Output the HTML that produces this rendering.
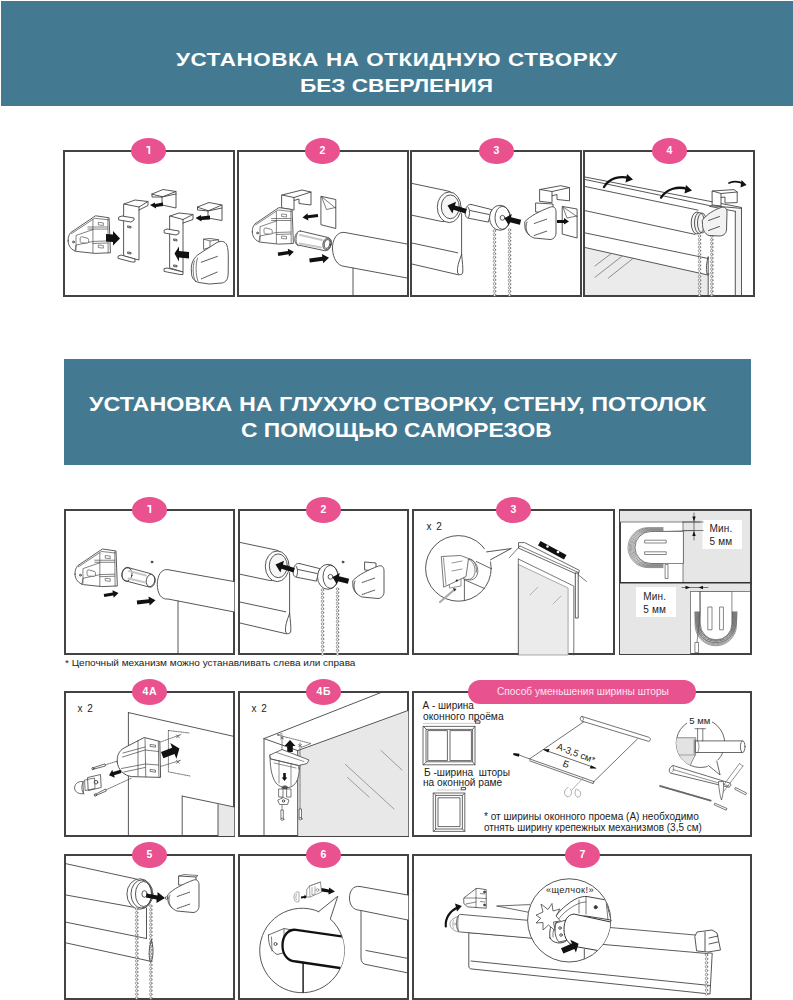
<!DOCTYPE html>
<html><head><meta charset="utf-8">
<style>
html,body{margin:0;padding:0;background:#fff;width:793px;height:1000px;overflow:hidden;position:relative;font-family:"Liberation Sans",sans-serif;}
.ban{position:absolute;background:#447a91;}
.tt{position:absolute;color:#fff;font-weight:bold;white-space:nowrap;line-height:1;transform-origin:0 0;}
.box{position:absolute;z-index:0;box-sizing:border-box;border:2px solid #434343;background:#fff;overflow:hidden;}
.bd{position:absolute;z-index:3;width:35px;height:26px;border-radius:50%;background:#e9518f;color:#fff;font-weight:bold;font-size:10.5px;letter-spacing:0.6px;text-indent:0.6px;text-align:center;line-height:25px;}
.txt{position:absolute;white-space:nowrap;line-height:1;color:#222;transform-origin:0 0;}
svg{position:absolute;left:0;top:0;}
</style></head><body>
<div class="ban" style="left:1px;top:1px;width:792px;height:105px"></div>
<div class="tt" id="t1a" style="left:176px;top:50.2px;font-size:19px;letter-spacing:0.5px;transform:scaleX(1.18)">УСТАНОВКА НА ОТКИДНУЮ СТВОРКУ</div>
<div class="tt" id="t1b" style="left:300px;top:76px;font-size:19px;transform:scaleX(1.19)">БЕЗ СВЕРЛЕНИЯ</div>

<div class="box" style="left:63px;top:150px;width:172px;height:147px"></div>
<div class="box" style="left:237px;top:150px;width:172px;height:147px"></div>
<div class="box" style="left:410px;top:150px;width:172px;height:147px"></div>
<div class="box" style="left:583px;top:150px;width:172px;height:147px"></div>

<svg width="793" height="1000" viewBox="0 0 793 1000" style="position:absolute;left:0;top:0;z-index:1" fill="none" stroke="#444" stroke-width="0.9" stroke-linejoin="round" stroke-linecap="round">
<defs><g id="housing">
<path fill="#fff" stroke-width="0.85" d="M252.3,232 C252.2,228.5 253,226 255,223.8 L278.9,207.6 L292.1,209.5 L293.4,243.5 L278.3,244.1 L260.6,242.2 C255.5,241 252.4,237 252.3,232 Z"/>
<path stroke-width="0.65" d="M255.5,225 L278,210 L291.5,211.5 M276.4,211.5 L276.4,243.5 M290.9,210.5 L291.2,243.5 M271.5,218.5 L290.9,218.5 M271.5,220.5 L290.9,220.5 M260.5,226.5 L276.4,221 M259,242 L260,236 L276.4,232.5 L290.9,232 M276.4,234.5 L290.9,234 M260,227 L260,241"/>
<path fill="#fff" stroke-width="0.65" d="M264,229 C264,228 265,228 266,228 L271.5,229.5 C272.5,230 272.5,233.5 271.5,234 L266,234 C264.5,234 264,233 264,232 Z"/>
<path stroke-width="0.6" d="M282,214 l4.5,0.5 l0,2.5 l-4.5,-0.5 z M282,236 l4.5,0.5 l0,2.5 l-4.5,-0.5 z"/>
<circle cx="257.5" cy="233" r="0.9"/>
</g></defs>

<!-- R1 B1 -->
<g id="r1b1">
<use href="#housing" transform="translate(-191.76,1.97) scale(1.03)"/>
<path fill="#111" stroke="none" d="M106,234 L113,234.5 L113,231 L120,238.5 L113,245.5 L113,242 L106,241.5 Z"/>
<!-- clip 1 -->
<path fill="#fff" d="M124,204 L135,200 L148,201.5 L148,205.5 L139,210 L139,260 L124,256 Z"/>
<path d="M124,204 L139,207 L148,201.5 M139,207 L139,210"/>
<path fill="#fff" d="M119,217 L122,216 L134,218 L134,220 L131,222 L119,220 Z"/>
<path fill="#fff" d="M118.5,256 L121,255 L135,259 L135,262 L132,262 L118.5,258.5 Z"/>
<path d="M128,226 l3,0.5 l0,1.5 l-3,-0.5z M128,252 l3,0.5 l0,1.5 l-3,-0.5z"/>
<!-- small clip 1 -->
<path fill="#fff" d="M152,194 L163,189.5 L176,191.5 L176,208 L162,205 L162,197 Z"/>
<path d="M152,194 L152,197 L162,197 L176,194 M162,197 L176,191.5"/>
<path fill="#111" stroke="none" d="M150,205 L155,202.5 L155,204 L163,202.5 L163,206 L156,207 L156,208.5 Z"/>
<!-- clip 2 -->
<path fill="#fff" d="M170,216 L179,213 L193,214.5 L193,219.5 L183,223 L183,272 L170,268 Z"/>
<path d="M170,216 L183,219.5 L193,214.5 M183,219.5 L183,223"/>
<path fill="#fff" d="M164.5,230 L167,229 L179,231 L179,233.5 L176,235 L164.5,233 Z"/>
<path fill="#fff" d="M164.5,268.5 L167,268 L183,272 L183,274.5 L180,274.5 L164.5,271.5 Z"/>
<path d="M174,239 l3,0.5 l0,1.5 l-3,-0.5z M174,265 l3,0.5 l0,1.5 l-3,-0.5z"/>
<!-- small clip 2 -->
<path fill="#fff" d="M197.5,207 L209,202.5 L222,205 L222,220.5 L208,218 L208,211 Z"/>
<path d="M197.5,207 L197.5,210 L208,211 L222,208 M208,211 L222,205"/>
<path fill="#111" stroke="none" d="M195.5,218 L201,215 L201,216.5 L210,215.5 L210,219.5 L201.5,220 L201.5,221.5 Z"/>
<!-- arrow into clip2 -->
<path fill="#111" stroke="none" d="M174.5,253.5 L179,246.5 L179,251 L189,252 L189,258.5 L179,257.5 L179,261.5 Z"/>
<!-- cover -->
<path fill="#fff" stroke-width="0.8" d="M203.6,249 L203.6,239.2 L210,238.5 L218.6,239.8 L218.6,244 Z"/>
<path stroke-width="0.7" d="M203.6,239.2 L210,241 L218.6,239.8 M210,241 L210,247"/>
<path fill="#fff" stroke-width="0.9" d="M191.3,268 C191.5,262 194,257.5 199,254 L217,242.5 C221,240.5 225,241 226.8,245 C228,248 228.3,252 228.3,258 L228.2,273 C228,279 226.5,282 222,283 L209.4,284 L199,282.5 C194.5,281.5 191.8,278 191.5,274 Z"/>
<path stroke-width="0.7" d="M194.5,261 C192.5,266 192.5,276 195.5,281.5 M197.5,258 C195.5,264 195.5,275 198,281"/>
<path stroke-dasharray="1.1 0.7" stroke-width="0.9" d="M201.3,262.2 L217.4,256.4 M201.3,278.9 L217.4,272"/>
</g>

<!-- R1 B2 -->
<g id="r1b2">
<path fill="#fff" d="M282,195 L302,190 L311,192 L311,205 L299,203.5 L299,199 L294,200.5 L294,210 L282,208 Z"/>
<path d="M282,195 L294,197.5 L311,192 M294,197.5 L294,200.5"/>
<use href="#housing"/>
<path fill="#fff" d="M321.3,196.4 L335.8,199.5 L335.8,228.5 L321.3,224.8 Z"/>
<path stroke-width="0.7" d="M321.5,196.6 L335.5,208 M321.5,196.6 L326.5,209.5 L335.5,207.5"/>
<path fill="#111" stroke="none" d="M302.5,217.5 L308.4,220.4 L308.1,218.3 L318.2,217.0 L317.8,214.0 L307.8,215.3 L307.5,213.2 Z"/>
<path fill="#fff" d="M300.5,231 L327.6,237.4 C331,238.5 332,241 331,245 C330,249 327.5,251 324.4,250.6 L298,245 C295,244 294.5,241 295,237 C296,233 298,231 300.5,231 Z"/>
<ellipse cx="327" cy="244" rx="4" ry="6" transform="rotate(12 327 244)"/>
<ellipse cx="327" cy="244" rx="2.8" ry="4.6" transform="rotate(12 327 244)"/>
<path stroke="#c8c8c8" stroke-width="2" d="M300,235 L322,240 M299.5,243.5 L321,247.5"/><path stroke-width="0.7" d="M297.5,233.5 C295.5,236 295.5,243 298,246"/>
<path fill="#111" stroke="none" d="M293.8,251.8 L287.8,248.7 L288.1,250.9 L277.7,252.5 L278.3,255.9 L288.6,254.3 L289.0,256.6 Z"/>
<path fill="#111" stroke="none" d="M329.0,257.8 L321.9,254.1 L322.3,256.7 L309.2,258.5 L309.8,262.5 L322.8,260.7 L323.2,263.2 Z"/>
<!-- roller -->
<path fill="#fff" d="M407,244 L345,232.5 C337,231 332,240 332.5,249 C333,258 337,266 345,266.5 L407,278"/>
<path d="M353,268 L353,295"/>
</g>

<!-- R1 B3 -->
<g id="r1b3">
<path fill="#fff" d="M412.3,183.5 L447.5,190.9 C455,192.5 459,200 458.5,208 C458,216 452,222 441.8,221.5 L412.3,215.3"/>
<ellipse cx="449.2" cy="207.3" rx="11.9" ry="15.3" fill="#fff"/>
<ellipse cx="450.3" cy="206.8" rx="9" ry="11.9" fill="#f6f6f6"/>
<path d="M412.3,243.1 L457.7,252.8 M412.3,264.1 L458.8,274.9 M461.6,213.6 L461.6,254.5"/>
<path fill="#fff" d="M461.6,254.5 C458.5,262 457,268 457.5,272 C458,275.5 462.5,275.5 462.8,272 C463,268 462.5,262 461.6,254.5 Z"/>
<path fill="#fff" d="M471.3,204.5 L491.7,209.6 L488.3,222.1 L467.9,218.1 C465.5,217.5 464.5,214 465.5,210 C466.5,206 468.5,204 471.3,204.5 Z"/>
<path d="M468,207 C470,209 470,215 468.5,217.5 M470,210.5 L489,214.5"/>
<ellipse cx="500" cy="217.8" rx="10.5" ry="12.5" fill="#fff"/>
<ellipse cx="502.5" cy="217.8" rx="7.5" ry="11.5"/>
<circle cx="502.5" cy="217.8" r="2.4"/>
<g fill="#fff" stroke="#666" stroke-width="0.65"><circle cx="494.40" cy="231.00" r="1.25"/><circle cx="494.41" cy="234.76" r="1.25"/><circle cx="494.42" cy="238.53" r="1.25"/><circle cx="494.44" cy="242.29" r="1.25"/><circle cx="494.45" cy="246.06" r="1.25"/><circle cx="494.46" cy="249.82" r="1.25"/><circle cx="494.47" cy="253.59" r="1.25"/><circle cx="494.48" cy="257.35" r="1.25"/><circle cx="494.49" cy="261.12" r="1.25"/><circle cx="494.51" cy="264.88" r="1.25"/><circle cx="494.52" cy="268.65" r="1.25"/><circle cx="494.53" cy="272.41" r="1.25"/><circle cx="494.54" cy="276.18" r="1.25"/><circle cx="494.55" cy="279.94" r="1.25"/><circle cx="494.56" cy="283.71" r="1.25"/><circle cx="494.58" cy="287.47" r="1.25"/><circle cx="494.59" cy="291.24" r="1.25"/><circle cx="494.60" cy="295.00" r="1.25"/></g><g fill="#fff" stroke="#666" stroke-width="0.65"><circle cx="509.50" cy="230.00" r="1.25"/><circle cx="509.50" cy="233.61" r="1.25"/><circle cx="509.50" cy="237.22" r="1.25"/><circle cx="509.50" cy="240.83" r="1.25"/><circle cx="509.50" cy="244.44" r="1.25"/><circle cx="509.50" cy="248.06" r="1.25"/><circle cx="509.50" cy="251.67" r="1.25"/><circle cx="509.50" cy="255.28" r="1.25"/><circle cx="509.50" cy="258.89" r="1.25"/><circle cx="509.50" cy="262.50" r="1.25"/><circle cx="509.50" cy="266.11" r="1.25"/><circle cx="509.50" cy="269.72" r="1.25"/><circle cx="509.50" cy="273.33" r="1.25"/><circle cx="509.50" cy="276.94" r="1.25"/><circle cx="509.50" cy="280.56" r="1.25"/><circle cx="509.50" cy="284.17" r="1.25"/><circle cx="509.50" cy="287.78" r="1.25"/><circle cx="509.50" cy="291.39" r="1.25"/><circle cx="509.50" cy="295.00" r="1.25"/></g>
<path fill="#111" stroke="none" d="M447.5,205.6 L452.4,213.6 L453.5,209.8 L465.5,213.5 L466.9,209.1 L454.9,205.4 L456.0,201.7 Z"/>
<path fill="#111" stroke="none" d="M504.5,218.3 L508.9,225.6 L509.7,222.3 L519.9,224.8 L521.1,219.8 L511.0,217.2 L511.8,213.9 Z"/>
<path fill="#fff" d="M540,189.5 L560.7,185.7 L569.5,187.6 L569.5,200.8 L557,199.5 L557,194.5 L552,195.8 L552,202.7 L540,201.4 Z"/>
<path d="M540,189.5 L552,191.5 L569.5,187.6 M552,191.5 L552,195.8"/>
<path fill="#fff" d="M562.6,206.5 L577.1,209 L577.1,238 L562.6,234.2 Z"/>
<path stroke-width="0.7" d="M562.8,206.8 L577,216.5 M562.8,206.8 L567,218 L577,216"/>
<path fill="#fff" d="M536,203 L553,204 L553,213 L536,212 Z"/>
<path fill="#fff" d="M525,221.5 C530,216 540,211 550.6,207 C554,206 556,208 556,212 L556,233 C556,237 553,239.5 550,239.5 L534,238 C529,236 525.5,232 525,228 Z"/>
<path d="M527,222 C525,226 526,232 529,235"/>
<path stroke-dasharray="1.2 0.8" d="M534.2,223.5 L546.8,219.1 M534.2,235.5 L546.8,231.1"/>
<path fill="#111" stroke="none" d="M557,220 L564,220 L564,218 L569,221.5 L564,224.5 L564,223 L557,223 Z"/>
</g>
<!-- R1 B4 -->
<g id="r1b4">
<path fill="#ebebeb" stroke="none" d="M585,247.5 L708.2,275.1 L708.2,295 L585,295 Z"/>
<path fill="#f1f1f1" stroke="none" d="M735.3,211.3 L741.5,208.4 L741.5,295 L735.3,295 Z"/>
<path d="M585,177 L741.5,207.5 M585,179.5 L709.6,205.6 L741.5,208.4 M741.5,208.4 L741.5,295 M735.3,211.3 L735.3,295 M709.6,206.3 L735.3,211.3"/>
<path d="M585,186.5 L698,210.1 M585,210.6 L695,234.4 M585,232.9 L708.2,258.5 M585,247.5 L708.2,275.1 M708.2,257 L708.2,295"/>
<path stroke="#666" stroke-width="0.7" d="M595,265.9 L611,253.8 M595,277.3 L621.7,256.4 M608.4,278 L633.2,258.3"/>
<path d="M708.2,257 C706.5,262 706,268 707,274 L709,274"/>
<g fill="#fff" stroke="#666" stroke-width="0.65"><circle cx="699.50" cy="236.00" r="1.25"/><circle cx="699.50" cy="239.69" r="1.25"/><circle cx="699.50" cy="243.38" r="1.25"/><circle cx="699.50" cy="247.06" r="1.25"/><circle cx="699.50" cy="250.75" r="1.25"/><circle cx="699.50" cy="254.44" r="1.25"/><circle cx="699.50" cy="258.12" r="1.25"/><circle cx="699.50" cy="261.81" r="1.25"/><circle cx="699.50" cy="265.50" r="1.25"/><circle cx="699.50" cy="269.19" r="1.25"/><circle cx="699.50" cy="272.88" r="1.25"/><circle cx="699.50" cy="276.56" r="1.25"/><circle cx="699.50" cy="280.25" r="1.25"/><circle cx="699.50" cy="283.94" r="1.25"/><circle cx="699.50" cy="287.62" r="1.25"/><circle cx="699.50" cy="291.31" r="1.25"/><circle cx="699.50" cy="295.00" r="1.25"/></g><g fill="#fff" stroke="#666" stroke-width="0.65"><circle cx="711.80" cy="236.00" r="1.25"/><circle cx="711.80" cy="239.69" r="1.25"/><circle cx="711.80" cy="243.38" r="1.25"/><circle cx="711.80" cy="247.06" r="1.25"/><circle cx="711.80" cy="250.75" r="1.25"/><circle cx="711.80" cy="254.44" r="1.25"/><circle cx="711.80" cy="258.12" r="1.25"/><circle cx="711.80" cy="261.81" r="1.25"/><circle cx="711.80" cy="265.50" r="1.25"/><circle cx="711.80" cy="269.19" r="1.25"/><circle cx="711.80" cy="272.88" r="1.25"/><circle cx="711.80" cy="276.56" r="1.25"/><circle cx="711.80" cy="280.25" r="1.25"/><circle cx="711.80" cy="283.94" r="1.25"/><circle cx="711.80" cy="287.62" r="1.25"/><circle cx="711.80" cy="291.31" r="1.25"/><circle cx="711.80" cy="295.00" r="1.25"/></g>
<path fill="#fff" d="M712.5,191 L734,189.6 L737.2,192 L737.2,202.6 L725,203 L725,197 L721,197.5 L721,206 L712.5,205 Z"/>
<path d="M712.5,191 L721,193.5 L737.2,192 M721,193.5 L721,197.5"/>
<ellipse cx="697" cy="223" rx="5.8" ry="11" fill="#f4f4f4"/>
<ellipse cx="699.5" cy="223" rx="5" ry="10.5" fill="#f4f4f4"/>
<ellipse cx="702" cy="223" rx="4.5" ry="10"/>
<path fill="#f2f2f2" d="M702.5,220 C707,214 714,210 721,207.5 C725,206.5 727,208.5 727,212 L726.5,230 C726,234 723,236 719,236 L709,235.5 C704.5,234 702.5,229 702.5,225 Z"/>
<path stroke-dasharray="1.2 0.7" d="M708.5,220.5 L719.5,216.5 M708.5,230.5 L719.5,226.5"/>
<path fill="none" stroke="#111" stroke-width="2.3" d="M604,187 C609.5,178 620,175.5 629,178"/>
<path fill="#111" stroke="none" d="M627,174 L633,179.5 L625.5,182.5 Z"/>
<path fill="none" stroke="#111" stroke-width="2.3" d="M661,197.6 C667,188.5 678,186 687.5,189"/>
<path fill="#111" stroke="none" d="M686,185 L692,190.5 L684.5,193.5 Z"/>
<path fill="none" stroke="#111" stroke-width="1.8" d="M729,183 C734,181 739,181.5 743,183.5"/>
<path fill="#111" stroke="none" d="M741.5,180 L746.6,185 L740.5,187.5 Z"/>
</g>
<!-- S2 R1 B1 -->
<g id="s2r1b1">
<use href="#housing" transform="translate(-184.86,335.17) scale(1.03)"/>
<path fill="#fff" d="M128,567.5 L150,573.5 C154,575 156,578 155,582 C154,586 152,587.5 149,587 L126,581 C123,580 121.5,577 122,573 C123,569 125,567 128,567.5 Z"/>
<ellipse cx="127" cy="574.5" rx="5" ry="6.8" transform="rotate(12 127 574.5)"/>
<ellipse cx="150.5" cy="580.5" rx="4.2" ry="6.2" transform="rotate(12 150.5 580.5)"/>
<path stroke="#c8c8c8" stroke-width="2" d="M129,571 L146,575.5 M128.5,578.5 L145.5,582.5"/>
<circle cx="152" cy="562" r="0.9" fill="#333"/>
<path fill="#111" stroke="none" d="M118.5,593.0 L112.4,590.2 L112.8,592.4 L103.7,593.9 L104.3,597.1 L113.4,595.5 L113.7,597.7 Z"/>
<path fill="#111" stroke="none" d="M155.5,600.3 L148.5,596.6 L148.8,599.2 L136.8,600.6 L137.2,604.4 L149.3,603.0 L149.6,605.5 Z"/>
<path fill="#fff" d="M234.3,581.6 L168,569.7 C161,568.5 157.3,576 157.3,584.5 C157.3,593 161,600 168,599 L234.3,612"/>
<path d="M178,601 L178,654"/>
</g>
<!-- S2 R1 B2 (shifted copy of R1B3 roller parts) -->
<g id="s2r1b2" transform="translate(-172,359)">
<path fill="#fff" d="M412.3,183.5 L447.5,190.9 C455,192.5 459,200 458.5,208 C458,216 452,222 441.8,221.5 L412.3,215.3"/>
<ellipse cx="449.2" cy="207.3" rx="11.9" ry="15.3" fill="#fff"/>
<ellipse cx="450.3" cy="206.8" rx="9" ry="11.9" fill="#f6f6f6"/>
<path d="M412.3,243.1 L457.7,252.8 M412.3,264.1 L458.8,274.9 M461.6,213.6 L461.6,254.5"/>
<path fill="#fff" d="M461.6,254.5 C458.5,262 457,268 457.5,272 C458,275.5 462.5,275.5 462.8,272 C463,268 462.5,262 461.6,254.5 Z"/>
<path fill="#fff" d="M471.3,204.5 L491.7,209.6 L488.3,222.1 L467.9,218.1 C465.5,217.5 464.5,214 465.5,210 C466.5,206 468.5,204 471.3,204.5 Z"/>
<path d="M468,207 C470,209 470,215 468.5,217.5 M470,210.5 L489,214.5"/>
<ellipse cx="500" cy="217.8" rx="10.5" ry="12.5" fill="#fff"/>
<ellipse cx="502.5" cy="217.8" rx="7.5" ry="11.5"/>
<circle cx="502.5" cy="217.8" r="2.4"/>
<g fill="#fff" stroke="#666" stroke-width="0.65"><circle cx="494.40" cy="231.00" r="1.25"/><circle cx="494.41" cy="234.76" r="1.25"/><circle cx="494.42" cy="238.53" r="1.25"/><circle cx="494.44" cy="242.29" r="1.25"/><circle cx="494.45" cy="246.06" r="1.25"/><circle cx="494.46" cy="249.82" r="1.25"/><circle cx="494.47" cy="253.59" r="1.25"/><circle cx="494.48" cy="257.35" r="1.25"/><circle cx="494.49" cy="261.12" r="1.25"/><circle cx="494.51" cy="264.88" r="1.25"/><circle cx="494.52" cy="268.65" r="1.25"/><circle cx="494.53" cy="272.41" r="1.25"/><circle cx="494.54" cy="276.18" r="1.25"/><circle cx="494.55" cy="279.94" r="1.25"/><circle cx="494.56" cy="283.71" r="1.25"/><circle cx="494.58" cy="287.47" r="1.25"/><circle cx="494.59" cy="291.24" r="1.25"/><circle cx="494.60" cy="295.00" r="1.25"/></g><g fill="#fff" stroke="#666" stroke-width="0.65"><circle cx="509.50" cy="230.00" r="1.25"/><circle cx="509.50" cy="233.61" r="1.25"/><circle cx="509.50" cy="237.22" r="1.25"/><circle cx="509.50" cy="240.83" r="1.25"/><circle cx="509.50" cy="244.44" r="1.25"/><circle cx="509.50" cy="248.06" r="1.25"/><circle cx="509.50" cy="251.67" r="1.25"/><circle cx="509.50" cy="255.28" r="1.25"/><circle cx="509.50" cy="258.89" r="1.25"/><circle cx="509.50" cy="262.50" r="1.25"/><circle cx="509.50" cy="266.11" r="1.25"/><circle cx="509.50" cy="269.72" r="1.25"/><circle cx="509.50" cy="273.33" r="1.25"/><circle cx="509.50" cy="276.94" r="1.25"/><circle cx="509.50" cy="280.56" r="1.25"/><circle cx="509.50" cy="284.17" r="1.25"/><circle cx="509.50" cy="287.78" r="1.25"/><circle cx="509.50" cy="291.39" r="1.25"/><circle cx="509.50" cy="295.00" r="1.25"/></g>
<path fill="#111" stroke="none" d="M447.5,205.6 L452.4,213.6 L453.5,209.8 L465.5,213.5 L466.9,209.1 L454.9,205.4 L456.0,201.7 Z"/>
<path fill="#111" stroke="none" d="M504.5,218.3 L508.9,225.6 L509.7,222.3 L519.9,224.8 L521.1,219.8 L511.0,217.2 L511.8,213.9 Z"/>
<path fill="#fff" d="M537,203 L548,204 L548,212 L537,211 Z"/>
<path fill="#fff" d="M525,221.5 C530,216 540,211 550.6,207 C554,206 556,208 556,212 L556,233 C556,237 553,239.5 550,239.5 L534,238 C529,236 525.5,232 525,228 Z"/>
<path d="M527,222 C525,226 526,232 529,235"/>
<path stroke-dasharray="1.2 0.8" d="M534.2,223.5 L546.8,219.1 M534.2,235.5 L546.8,231.1"/>
<circle cx="515" cy="203" r="0.9" fill="#333"/>
</g>
<!-- S2 R1 B3 -->
<g id="s2r1b3">
<text x="426.4" y="530" font-size="10" fill="#222" stroke="none" font-family="Liberation Sans">x</text><text x="436.2" y="530" font-size="10" fill="#222" stroke="none" font-family="Liberation Sans">2</text>
<path fill="#ebebeb" stroke="#888" stroke-width="0.7" d="M518.9,564.7 L568.1,588 L568.1,655 L518.9,655 Z"/>
<path stroke="#555" stroke-width="0.8" d="M518.3,559 L518.3,655 M518.3,559 L573.8,586.1 L573.8,655"/>
<path stroke="#aaa" d="M530,595 L538,587 M553,604 L561,596"/>
<path fill="#fff" stroke-width="0.8" d="M518.9,542.6 L524.6,542.6 L579.4,570.4 L578.2,574.8 L518.9,548.3 Z"/>
<path stroke-width="0.7" d="M520,546 L578.5,572.5 M509.5,557.5 L520,546 M576,573 L586.5,581.5"/>
<path fill="#111" stroke="none" d="M540.5,541 L566.5,555 L564,559.5 L538,545.5 Z"/>
<circle cx="547.5" cy="546.5" r="1.3" fill="#fff" stroke="none"/><circle cx="558" cy="552" r="1.3" fill="#fff" stroke="none"/>
<path fill="#fff" d="M575.7,573 L578.2,573 L578.2,618 L575.7,618 Z"/>
<circle cx="458.4" cy="568.4" r="32.8" fill="#fff"/>
<path fill="#fff" stroke="none" d="M484,549 L511,548.6 L488,563 Z"/>
<path d="M486.5,551.9 L511,548.6 M490.5,559.8 L511,548.6"/>
<path stroke="#555" d="M464.4,578.6 L464.4,600.5 M464.4,579.7 L484.5,588.5 M476.3,561.5 L490.5,568.3"/>
<path fill="#fff" stroke="#666" stroke-width="0.7" d="M449,579 L461,577 L461,586 L450,588 Z"/>
<path fill="#fafafa" stroke="#555" stroke-width="0.8" d="M465.5,560 C470,557.5 476,561 477.5,568 C479,575 475,580 470,580 L464,579 Z"/>
<path stroke="#555" stroke-width="0.7" d="M467,559 C472,559 475,565 475,571 C475,576 472,579.5 468,579.5 M469,558.5 C474,559.5 477,565 476.5,572"/>
<path fill="#fff" stroke="#555" stroke-width="0.8" d="M441.7,556.5 L460.5,555.5 L468.5,558.5 L466,576.5 L450.5,584 L444,587 Z"/>
<path stroke="#666" stroke-width="0.7" d="M443.5,558 L446,585 M452,563 L462,561 M452,571 L462,569"/>
<path stroke="#aaa" stroke-width="2.2" d="M440,602 L454,590"/>
<path fill="#222" stroke="none" d="M453,588 L456.5,589 L454.5,591.5 Z"/>
<circle cx="456.8" cy="580.5" r="1.1" fill="#222" stroke="none"/>
</g>
<!-- S2 R1 B4 -->
<g id="s2r1b4">
<path fill="#e6e6e6" stroke="none" d="M620,511 L750,511 L750,582 L683,582 L683,522 L620,522 Z"/>
<path fill="#e6e6e6" stroke="none" d="M620,583 L750,583 L750,591.5 L690.5,591.5 L690.5,654 L620,654 Z"/>
<path stroke="#666" stroke-width="0.8" d="M620,522 L700,522 M683,522 L683,582 M690.5,591.5 L750,591.5 M690.5,591.5 L690.5,654"/>
<path stroke="#333" stroke-width="1.6" d="M620,582.7 L751,582.7"/>
<rect x="702.5" y="520" width="39.5" height="29" fill="#fff" stroke="none"/>
<rect x="636" y="587" width="40" height="30" fill="#fff" stroke="none"/>
<text x="709.5" y="531.5" font-size="10" letter-spacing="0.2" fill="#222" stroke="none" font-family="Liberation Sans">Мин.</text>
<text x="709.5" y="544.7" font-size="10" letter-spacing="0.2" fill="#222" stroke="none" font-family="Liberation Sans">5 мм</text>
<text x="643.2" y="599.5" font-size="10" letter-spacing="0.2" fill="#222" stroke="none" font-family="Liberation Sans">Мин.</text>
<text x="643.2" y="612.7" font-size="10" letter-spacing="0.2" fill="#222" stroke="none" font-family="Liberation Sans">5 мм</text>
<path stroke-width="0.7" d="M683,522 L703,522 M683,530.5 L703,530.5 M694,513 L694,540"/>
<path fill="#111" stroke="none" d="M692.3,516.5 L695.7,516.5 L694,521.5 Z M692.3,536 L695.7,536 L694,531 Z"/>
<path stroke-width="0.7" d="M682,587.5 L708,587.5"/>
<path fill="#111" stroke="none" d="M685.5,585.8 L685.5,589.2 L690.3,587.5 Z M703,585.8 L703,589.2 L698.5,587.5 Z"/>

<path stroke="#5a5a5a" stroke-width="0.6" d="M663,531.60 L651.00,531.60 A16.00,16.00 0 0 0 651.00,563.60 L663,563.60"/><path stroke="#5a5a5a" stroke-width="0.6" d="M700.15,612 L700.15,624.00 A15.85,15.85 0 0 0 731.85,624.00 L731.85,612"/><path stroke="#5a5a5a" stroke-width="0.6" d="M663,530.93 L650.50,530.93 A16.67,16.67 0 0 0 650.50,564.27 L663,564.27"/><path stroke="#5a5a5a" stroke-width="0.6" d="M699.31,612 L699.31,624.18 A16.66,16.66 0 0 0 732.62,624.18 L732.62,612"/><path stroke="#5a5a5a" stroke-width="0.6" d="M663,530.27 L650.00,530.27 A17.33,17.33 0 0 0 650.00,564.93 L663,564.93"/><path stroke="#5a5a5a" stroke-width="0.6" d="M698.47,612 L698.47,624.37 A17.47,17.47 0 0 0 733.40,624.37 L733.40,612"/><path stroke="#5a5a5a" stroke-width="0.6" d="M663,529.60 L649.50,529.60 A18.00,18.00 0 0 0 649.50,565.60 L663,565.60"/><path stroke="#5a5a5a" stroke-width="0.6" d="M697.62,612 L697.62,624.55 A18.27,18.27 0 0 0 734.17,624.55 L734.17,612"/><path stroke="#5a5a5a" stroke-width="0.6" d="M663,528.93 L649.00,528.93 A18.67,18.67 0 0 0 649.00,566.27 L663,566.27"/><path stroke="#5a5a5a" stroke-width="0.6" d="M696.78,612 L696.78,624.73 A19.08,19.08 0 0 0 734.95,624.73 L734.95,612"/><path stroke="#5a5a5a" stroke-width="0.6" d="M663,528.27 L648.50,528.27 A19.33,19.33 0 0 0 648.50,566.93 L663,566.93"/><path stroke="#5a5a5a" stroke-width="0.6" d="M695.94,612 L695.94,624.92 A19.89,19.89 0 0 0 735.73,624.92 L735.73,612"/><path stroke="#5a5a5a" stroke-width="0.6" d="M663,527.60 L648.00,527.60 A20.00,20.00 0 0 0 648.00,567.60 L663,567.60"/><path stroke="#5a5a5a" stroke-width="0.6" d="M695.10,612 L695.10,625.10 A20.70,20.70 0 0 0 736.50,625.10 L736.50,612"/>
<path stroke="#555" stroke-width="0.7" d="M663,531.5 L694,530.5"/>
<path fill="#fff" stroke="#555" stroke-width="0.7" d="M683,531.5 L651,531.5 A16,16 0 0 0 651,563.5 L683,563.5 Z"/>
<path fill="#fff" stroke="#555" stroke-width="0.7" d="M645,540.2 L666.2,540.2 L666.2,543 L645,543 Z M645,551.8 L666.2,551.8 L666.2,554.5 L645,554.5 Z"/>
<path fill="#fff" stroke="#555" stroke-width="0.7" d="M665.5,564.5 L668,564.5 L668,578.5 L665.5,578.5 Z"/>
<path stroke="#666" stroke-width="0.7" d="M699.4,612 C699.4,631.1 706.9,636.1 716,636.1 C725.1,636.1 732.6,631.1 732.6,612"/><path stroke="#666" stroke-width="0.7" d="M698.3,612 C698.3,632.4 706.3,637.7 716,637.7 C725.7,637.7 733.7,632.4 733.7,612"/><path stroke="#666" stroke-width="0.7" d="M697.2,612 C697.2,633.6 705.7,639.3 716,639.3 C726.3,639.3 734.8,633.6 734.8,612"/><path stroke="#666" stroke-width="0.7" d="M696.1,612 C696.1,634.9 705.1,640.9 716,640.9 C726.9,640.9 735.9,634.9 735.9,612"/><path stroke="#666" stroke-width="0.7" d="M695.0,612 C695.0,636.1 704.5,642.5 716,642.5 C727.5,642.5 737.0,636.1 737.0,612"/>
<path fill="#fff" stroke="#555" stroke-width="0.7" d="M700.2,591.5 L731.9,591.5 L731.9,624 A15.85,15.85 0 0 1 700.2,624 Z"/>
<path fill="#fff" stroke="#555" stroke-width="0.7" d="M708.2,607 L712,607 L712,629.8 L708.2,629.8 Z M720,607 L723.4,607 L723.4,629.8 L720,629.8 Z"/>
<path stroke="#555" stroke-width="0.7" d="M700.2,591.5 L700.2,612 C699,625 697.5,635 697,643"/>
<path fill="#fff" stroke="#555" stroke-width="0.7" d="M695.3,642.5 L698.5,642.5 L698.5,652.6 L695.3,652.6 Z"/>
</g>
<!-- S2 R2 B1 4A -->
<g id="s2r2b1">
<text x="77.4" y="712" font-size="10" fill="#222" stroke="none" font-family="Liberation Sans">x</text><text x="87.3" y="712" font-size="10" fill="#222" stroke="none" font-family="Liberation Sans">2</text>
<path d="M128.4,712.6 L128.4,836 M128.4,712.6 L234.3,736.5"/>
<path fill="#e8e8e8" stroke="none" d="M218,804.5 L234.3,807 L234.3,836 L218,836 Z"/>
<path d="M182.2,796.1 L182.2,836 M182.2,796.1 L234.3,807 M218,804.5 L218,836"/>
<path stroke-dasharray="1.4 1" stroke-width="0.7" d="M168.4,730.5 L189,733 M168.4,730.5 L168.4,771.9 L190,776 M160.6,742 L181,734.5 M160.6,766.5 L181,760.2 M105.1,764.9 L117.6,761 M105.9,789.9 L131.7,778"/>
<path stroke-width="0.7" d="M176.5,735 l2.8,2.8 m0,-2.8 l-2.8,2.8 M176.5,760.5 l2.8,2.8 m0,-2.8 l-2.8,2.8"/>
<path fill="#fff" d="M117.2,762 C116.8,755.5 119,751 124,748 L144.2,737.5 L159.8,741.4 L160.6,777.4 L131.7,776.6 C124,775.5 118,770 117.2,762 Z"/>
<path stroke-width="0.7" d="M145,738.5 L145.8,776.8 M158.3,741.5 L158.9,777 M122.5,757 L145,750 L158.5,751.5 M121.5,768.5 L145,764 L158.5,765 M123,753 L145,747 M124,772 L145,767.5 M138,740.5 L138,776"/>
<path stroke-width="0.7" d="M150.5,744.5 l5,0.7 l0,2 l-5,-0.7z M150.5,769.5 l5,0.7 l0,2 l-5,-0.7z"/>
<path fill="#111" stroke="none" d="M179.4,748.5 L170.3,742.9 L172.1,747.8 L161.0,752.1 L163.4,758.3 L174.5,753.9 L176.4,758.8 Z"/><path fill="#111" stroke="none" d="M109.0,775.2 L114.9,777.7 L114.1,775.3 L121.5,772.9 L120.5,769.7 L113.0,772.1 L112.3,769.7 Z"/>
<path fill="#fff" stroke-width="0.8" d="M92.6,768 L104.8,763.9 L105.5,766 L93.3,769.2 Z M94.9,794.6 L105.6,789 L106.3,791 L95.6,795.6 Z"/>
<circle cx="93" cy="768.6" r="1.1" fill="#fff"/><circle cx="95.3" cy="795" r="1.1" fill="#fff"/>
<path fill="#fff" stroke-width="0.8" d="M87.9,777.5 L100.5,774.5 L101.2,787.5 L88.6,790.5 Z"/>
<path stroke-width="0.7" d="M85,780 L94.5,778 L95,788.5 L85.5,790.5 Z"/>
<circle cx="96" cy="782.2" r="1.8"/>
<path fill="#fff" stroke-width="0.8" d="M82.5,781.5 C77,781 74.5,785 74.6,788 C74.7,791 77,794 83,793.8 Z"/>
<path stroke-width="0.7" d="M84,781 C81,785 81,790 84,794"/>
</g>
<!-- S2 R2 B2 4B -->
<g id="s2r2b2">
<text x="251.4" y="712" font-size="10" fill="#222" stroke="none" font-family="Liberation Sans">x</text><text x="261.3" y="712" font-size="10" fill="#222" stroke="none" font-family="Liberation Sans">2</text>
<path fill="#e8e8e8" stroke="none" d="M297.7,750.6 L408.3,710.4 L408.3,836 L297.7,836 Z"/>
<path d="M264,738.6 L264,836 M297.7,750.6 L297.7,836 M264,738.6 L382.3,692 M297.7,750.6 L408.3,710.4 M264,738.6 L297.7,750.6"/>
<path stroke="#888" stroke-width="0.8" d="M345.5,764.5 L394,809 M347.5,777.5 L369,797 M381,750.5 L402,770"/>
<path stroke-dasharray="1.3 1" stroke-width="0.7" d="M277.5,735 L311,743.5 L301,747.5 M277.5,735 L282,733.5 M282,735 L282,810 M300,743 L300,809"/>
<path stroke-width="0.6" d="M280.5,737 l3,2 m0,-2 l-3,2 M298.5,744.5 l3,2 m0,-2 l-3,2"/>
<path fill="#111" stroke="none" d="M290.0,740.0 L284.5,746.0 L287.2,746.0 L287.2,752.0 L292.8,752.0 L292.8,746.0 L295.5,746.0 Z"/>
<path fill="#fff" stroke-width="0.8" d="M270,755 C270,765 271,776 276,783 C279,787 286,788.5 291,787 C295,785 297.5,781 298.5,776 L300,765 Z"/>
<path fill="#fff" stroke-width="0.8" d="M270,755 L282,749.5 L309,760 L307,763.5 L298.5,765.5 L271,759 Z"/>
<path stroke-width="0.6" d="M271,759 L298.5,765.5 L298.5,769 M274,763 L296,768 M279,760.5 L279,783 M291,763.5 L291,786 M276.5,752.5 L304,761.5"/>
<path fill="#111" stroke="none" d="M284.5,781.0 L287.3,777.5 L285.8,777.5 L285.8,773.0 L283.2,773.0 L283.2,777.5 L281.7,777.5 Z"/>
<ellipse cx="285" cy="787.5" rx="2.6" ry="1.6" fill="#555"/>
<path fill="#fff" stroke-width="0.7" d="M279,789 L283,789 L283,797 L279,797 Z M287,789 L291,789 L291,797 L287,797 Z"/>
<path fill="#fff" stroke-width="0.7" d="M278,800 L283.5,797.5 L289,800 L287.5,804.5 L280,804.5 Z"/>
<circle cx="283.5" cy="801" r="1.2"/>
<path fill="#fff" stroke-width="0.7" d="M281.3,810 L283.3,810 L283.3,818.5 L281.3,818.5 Z M299.5,809 L301.5,809 L301.5,818 L299.5,818 Z"/>
<ellipse cx="282.3" cy="819.3" rx="1.6" ry="1" fill="#fff" stroke-width="0.7"/><ellipse cx="300.5" cy="818.8" rx="1.6" ry="1" fill="#fff" stroke-width="0.7"/>
</g>
<!-- S2 R2 B3 wide -->
<g id="s2r2b3">
<g stroke="#444" stroke-width="0.8" fill="none">
<rect x="423.4" y="726.4" width="51.6" height="38.4"/>
<rect x="426.4" y="729.4" width="46.2" height="32.4"/>
<path d="M423.4,726.4 L426.4,729.4 M475,726.4 L472.6,729.4 M423.4,764.8 L426.4,761.8 M475,764.8 L472.6,761.8"/>
<rect x="428.2" y="730.6" width="19.2" height="30"/>
<rect x="450.4" y="730.6" width="21" height="30"/>
<rect x="433.6" y="793" width="31.2" height="38.4"/>
<rect x="436" y="795.4" width="26.4" height="33.6"/>
<rect x="438.4" y="797.8" width="21.6" height="28.8"/>
<path d="M433.6,793 L436,795.4 M464.8,793 L462.4,795.4 M433.6,831.4 L436,829 M464.8,831.4 L462.4,829"/>
</g>
<path stroke="#aaa" stroke-width="0.6" d="M423.4,723.4 L475.6,723.4 M437.5,790 L461.2,790"/>
<path fill="#fff" stroke="#333" stroke-width="0.9" d="M476,720.8 L480,720.8 L480,723.2 L476,723.2 Z M461.6,787.4 L465.6,787.4 L465.6,789.8 L461.6,789.8 Z"/>
<!-- flat shade -->
<path fill="#fff" stroke="none" d="M583.5,722 L646,740 L593.9,781.6 L529.6,758.9 Z"/>
<path stroke-width="0.75" d="M583.5,722 L529.6,758.9 M529.6,758.9 L593.9,781.6 M529.6,760.8 L593,783.5 M593.9,781.6 L593,783.5 M593.9,781.6 L637.4,739"/>
<path fill="#fff" stroke-width="0.75" d="M582,716.5 L648.7,737.2 C651,738 651,741 648.5,741.3 L581.6,721 C579.5,720 579.8,716 582,716.5 Z"/>
<path stroke-width="0.6" d="M582.5,717 C584,718 584,720.5 582.5,721"/>
<path stroke-width="0.8" d="M544,749.8 L595.5,768"/>
<path fill="#111" stroke="none" d="M542.8,749.4 L549.5,749 L548.3,752.4 Z M596.7,768.4 L591,765.2 L589.8,768.6 Z"/>
<text x="0" y="0" font-size="9.5" fill="#222" stroke="none" font-family="Liberation Sans" transform="translate(556,749) rotate(21)">А-3,5 см*</text>
<text x="0" y="0" font-size="9.5" fill="#222" stroke="none" font-family="Liberation Sans" transform="translate(562,766) rotate(21)">Б</text>
<path stroke-width="0.7" d="M529.6,758.9 L519,755"/>
<path fill="#111" stroke="none" d="M513.5,753 L519.5,753.8 L518.8,756.8 L513.2,755 Z"/>
<path stroke="#999" stroke-width="0.8" d="M583,778 L572,790 M568,787.5 C564,789 563,795 567,796.5 C571,797.5 573,792 570.5,789 M576,789 C574,792 575,798 579,797 C582,795.5 581,790 577,789.5"/>
<!-- magnifier -->
<clipPath id="cm1"><circle cx="700.5" cy="743.2" r="24.3"/></clipPath>
<circle cx="700.5" cy="743.2" r="24.3" fill="#fff" stroke-width="0.8"/>
<path fill="#fff" stroke="none" d="M707,766 L720.1,775 L718,760 Z"/>
<path stroke-width="0.8" d="M708.6,765.6 L720.1,775 L716.9,761.5"/>
<g clip-path="url(#cm1)">
<path fill="#e3e3e3" stroke="#666" stroke-width="0.7" d="M670,737.7 L695.7,737.7 L695.7,754 L688,770 L670,770 Z"/>
<path stroke="#777" stroke-width="0.6" d="M676,755 L695.7,755"/>
</g>
<path fill="#fff" stroke-width="0.8" d="M695.7,740.9 L742.7,740.9 L742.7,752.5 L695.7,752.5 Z"/>
<ellipse cx="742.7" cy="746.7" rx="2.3" ry="5.8" fill="#fff" stroke-width="0.8"/>
<path stroke-width="0.6" d="M694.2,739.5 L694.2,754 M697.5,741 C699.5,743 699.5,750 697.5,752.5"/>
<rect x="687" y="716" width="25" height="9" fill="#fff" stroke="none"/>
<text x="689.3" y="723.5" font-size="9.5" fill="#222" stroke="none" font-family="Liberation Sans">5 мм</text>
<path stroke-width="0.7" d="M697.6,728.7 L697.6,741 M702.8,728.7 L702.8,741 M695,728.7 L705.5,728.7"/>
<path fill="#fff" stroke-width="0.8" d="M673,765.5 L729.8,783 C731.5,784 731,787 728.5,787.2 L670.6,773.1 C668.5,772 669,768 671,767 Z"/>
<path stroke-width="0.6" d="M673,769.5 L729,786 M672.5,766 C674.5,768 674,771 672,772"/>
<path stroke="#666" stroke-width="1.8" stroke-dasharray="0.8 0.5" d="M660,786 L711,800.7"/>
<path stroke="#777" stroke-width="0.8" d="M720,790 L739.5,763.5 M722.5,793 L743,766 M739.5,763.5 L743,766"/>
<path fill="#fff" stroke-width="0.7" d="M718.5,782 C719,790 720,796 721.5,800 C723,795 724,788 723.5,782 Z"/>
<path fill="#fff" stroke-width="0.7" d="M715.2,803.3 L727,808.5 L726.2,810.2 L714.6,805 Z M735.8,787.6 L746.5,793 L745.6,794.8 L735,789.4 Z"/>
</g>

<!-- S2 R3 B5 -->
<g id="s2r3b5">
<path fill="#fff" d="M66,863.7 L135.6,878.9 C145,881 150,888 150,895 C150,903 144,908 135,907.5 L66,895"/>
<path d="M66,922.2 L146.4,938.5 M66,942.9 L150.8,961.3 M146.5,938.5 L146.5,908"/>
<ellipse cx="139.9" cy="894" rx="13" ry="15.2" fill="#fff"/>
<ellipse cx="141.5" cy="894" rx="10.5" ry="14"/>
<ellipse cx="143.5" cy="894" rx="8" ry="12.5"/>
<ellipse cx="144.5" cy="894" rx="2.6" ry="3.3"/>
<g fill="#fff" stroke="#666" stroke-width="0.65"><circle cx="136.70" cy="909.00" r="1.25"/><circle cx="136.70" cy="912.71" r="1.25"/><circle cx="136.70" cy="916.42" r="1.25"/><circle cx="136.70" cy="920.12" r="1.25"/><circle cx="136.70" cy="923.83" r="1.25"/><circle cx="136.70" cy="927.54" r="1.25"/><circle cx="136.70" cy="931.25" r="1.25"/><circle cx="136.70" cy="934.96" r="1.25"/><circle cx="136.70" cy="938.67" r="1.25"/><circle cx="136.70" cy="942.38" r="1.25"/><circle cx="136.70" cy="946.08" r="1.25"/><circle cx="136.70" cy="949.79" r="1.25"/><circle cx="136.70" cy="953.50" r="1.25"/><circle cx="136.70" cy="957.21" r="1.25"/><circle cx="136.70" cy="960.92" r="1.25"/><circle cx="136.70" cy="964.62" r="1.25"/><circle cx="136.70" cy="968.33" r="1.25"/><circle cx="136.70" cy="972.04" r="1.25"/><circle cx="136.70" cy="975.75" r="1.25"/><circle cx="136.70" cy="979.46" r="1.25"/><circle cx="136.70" cy="983.17" r="1.25"/><circle cx="136.70" cy="986.88" r="1.25"/><circle cx="136.70" cy="990.58" r="1.25"/><circle cx="136.70" cy="994.29" r="1.25"/><circle cx="136.70" cy="998.00" r="1.25"/></g><g fill="#fff" stroke="#666" stroke-width="0.65"><circle cx="150.80" cy="906.00" r="1.25"/><circle cx="150.80" cy="909.68" r="1.25"/><circle cx="150.80" cy="913.36" r="1.25"/><circle cx="150.80" cy="917.04" r="1.25"/><circle cx="150.80" cy="920.72" r="1.25"/><circle cx="150.80" cy="924.40" r="1.25"/><circle cx="150.80" cy="928.08" r="1.25"/><circle cx="150.80" cy="931.76" r="1.25"/><circle cx="150.80" cy="935.44" r="1.25"/><circle cx="150.80" cy="939.12" r="1.25"/><circle cx="150.80" cy="942.80" r="1.25"/><circle cx="150.80" cy="946.48" r="1.25"/><circle cx="150.80" cy="950.16" r="1.25"/><circle cx="150.80" cy="953.84" r="1.25"/><circle cx="150.80" cy="957.52" r="1.25"/><circle cx="150.80" cy="961.20" r="1.25"/><circle cx="150.80" cy="964.88" r="1.25"/><circle cx="150.80" cy="968.56" r="1.25"/><circle cx="150.80" cy="972.24" r="1.25"/><circle cx="150.80" cy="975.92" r="1.25"/><circle cx="150.80" cy="979.60" r="1.25"/><circle cx="150.80" cy="983.28" r="1.25"/><circle cx="150.80" cy="986.96" r="1.25"/><circle cx="150.80" cy="990.64" r="1.25"/><circle cx="150.80" cy="994.32" r="1.25"/><circle cx="150.80" cy="998.00" r="1.25"/></g>
<path d="M151.5,940 C148.5,948 148.5,958 150.5,962 C152.5,962 154.5,950 151.5,940 Z"/>
<path fill="#111" stroke="none" d="M146.5,893.5 L157.5,895.5 L157.5,892 L165,898 L156.5,903 L156.5,899.5 L146,897.5 Z"/>
<g transform="translate(-357,673)">
<path fill="#fff" d="M536,203 L553,204 L553,213 L536,212 Z"/>
<path stroke-width="0.7" d="M536,203 L541,201.5 L555,202.5 L553,204"/>
<path fill="#fff" d="M525,221.5 C530,216 540,211 550.6,207 C554,206 556,208 556,212 L556,233 C556,237 553,239.5 550,239.5 L534,238 C529,236 525.5,232 525,228 Z"/>
<path stroke-width="0.7" d="M527,222 C525,226 526,232 529,235"/>
<path stroke-dasharray="1.2 0.8" d="M534.2,223.5 L546.8,219.1 M534.2,235.5 L546.8,231.1"/>
<circle cx="523.5" cy="225" r="1.3" fill="#fff"/>
</g>
</g>
<!-- S2 R3 B6 -->
<g id="s2r3b6">
<path fill="#fff" d="M408.3,895.1 L360,886.5 C353,885.5 349.5,891 349.5,898 C349.5,905 353,910 360,910.3 L408.3,920.1"/>
<path d="M361,911 L361,958 C361,962 363,964 366,964.5 L408.3,973 M366,950.5 L408.3,958.5"/>
<path fill="#fff" d="M318.7,911.55 L337.8,896.2 L330.3,918.97 A42.3,42.3 0 1 1 318.7,911.55 Z"/>
<clipPath id="cm6"><circle cx="302" cy="950.4" r="42.3"/></clipPath>
<path fill="#fff" stroke-width="0.8" d="M268.5,935 L284,928.5 L292,930 L291,951 L277,954.5 C271,951 268,944 268.5,935 Z"/>
<path stroke-width="0.7" d="M271.5,937 L272,951 M284,929 L284,950"/>
<circle cx="275.5" cy="944" r="1.5"/>
<g clip-path="url(#cm6)">
<path fill="#fff" stroke="#111" stroke-width="2.3" d="M350,937.5 L296,929.8 C288,929 282.5,936 282.5,945.5 C282.5,955 288,961.5 296,961.5 L350,969.5"/>
<path stroke="#111" stroke-width="1.4" d="M303.1,962.5 L303.1,995"/>
</g>
<path fill="#fff" stroke="#888" stroke-width="0.7" d="M296.5,892 C293,893 293,901 296.5,902 L299,901.5 L299,892.5 Z M296.5,894 C295.5,896 295.5,899 296.5,900"/>
<path fill="#111" stroke="none" d="M301,896.5 L304.5,896 L304.5,894.5 L307,897 L304.5,899 L304.5,898 L301,898.5 Z"/>
<path fill="#fff" stroke="#666" stroke-width="0.7" d="M307,889 L309.5,886 L320.5,882 L321.5,892 L310,897 L307,897 Z"/>
<path stroke="#777" stroke-width="0.6" d="M309.5,886 L310,897 M312,887.5 L312,895 L315,894 L315,886.5 M309.5,886 L320.5,882"/>
<circle cx="317.5" cy="890" r="1.4" stroke="#666" stroke-width="0.6"/>
<path fill="#111" stroke="none" d="M321.5,888 L329,889.5 L329,887.5 L335,891.5 L328.5,894.5 L328.5,892.5 L321.5,891.5 Z"/>
</g>
<!-- S2 R3 B7 -->
<g id="s2r3b7">
<path fill="#fff" d="M468.8,933 L468.8,966 C468.8,968 470,969 472,969 L710,994 L712.2,953.6 Z"/>
<path d="M471,961 L710,985.5"/>
<path fill="#fff" stroke="#888" stroke-width="0.8" d="M458.5,916.5 C452.5,918 450,921 450,924 C450,927.5 452.5,930.5 458.5,932 Z"/>
<path stroke="#888" stroke-width="0.6" d="M453.5,920 C452.5,922.5 452.5,926 453.5,928.5"/>
<circle cx="454.5" cy="924" r="1" stroke="#999" stroke-width="0.6"/>
<path fill="#fff" stroke-width="0.85" d="M712.2,936.5 L460.6,914.4 C457.5,914.5 456.6,919 456.6,923.5 C456.6,928 457.5,932 460.6,932 L707.9,953.6"/>
<path stroke-width="0.6" d="M458.5,916 C457.5,919 457.5,928 458.5,931"/>
<g fill="#fff" stroke="#666" stroke-width="0.65"><circle cx="706.50" cy="955.00" r="1.25"/><circle cx="706.50" cy="958.90" r="1.25"/><circle cx="706.50" cy="962.80" r="1.25"/><circle cx="706.50" cy="966.70" r="1.25"/><circle cx="706.50" cy="970.60" r="1.25"/><circle cx="706.50" cy="974.50" r="1.25"/><circle cx="706.50" cy="978.40" r="1.25"/><circle cx="706.50" cy="982.30" r="1.25"/><circle cx="706.50" cy="986.20" r="1.25"/><circle cx="706.50" cy="990.10" r="1.25"/><circle cx="706.50" cy="994.00" r="1.25"/></g>
<path fill="#fff" d="M695,936 L697,932 L712,930 L717,933 L720.5,950 L708,952 L697,951 Z"/>
<path d="M705,932 L705,951 M709,938 L718,936 M709,944 L718,942"/>
<path fill="#fff" stroke-width="0.8" d="M464.1,897.7 L476,888.6 L478.2,888.4 L486.2,889.7 L486.2,908.2 L467.7,906.9 L464.1,903.8 Z"/>
<path stroke-width="0.65" d="M476,888.6 L476,907.5 M476,898 L486.2,898.5 M464.5,898 L476,898 M466,904 L476,902 M480.5,893.5 L484.5,894 M480.5,901.5 L484.5,902"/>
<circle cx="484.5" cy="892" r="0.9" fill="#333"/><circle cx="484.5" cy="905" r="0.9" fill="#333"/>
<path fill="none" stroke="#111" stroke-width="2.2" d="M445.8,926.5 C445,918 450,911 457.5,907.5"/>
<path fill="#111" stroke="none" d="M455,903.5 L461.8,906 L457,911.5 Z"/>
<path fill="#fff" stroke="none" d="M497,906 L530,903.5 L530,912.5 Z"/>
<path stroke-width="0.8" d="M497,906 L529.5,904.6 M497,906 L528.2,912.2"/>
<circle cx="569.2" cy="920.4" r="41.6" fill="#fff" stroke-width="0.9"/>
<clipPath id="cm7"><circle cx="569.2" cy="920.4" r="41.2"/></clipPath>
<g clip-path="url(#cm7)">
<path fill="#fff" stroke="#333" stroke-width="0.9" d="M550,938 C548,925 556,913 568,904 C574,899 581,896 587,896.5 L606,900 L611,920 L586,916 C577,916 571,921 569,929 L566,941 C562,944 553,944 550,938 Z"/>
<path stroke-width="0.7" d="M553,937 C552,927 558,917 569,909 C575,905 580,902 586,902 M579,900 L579,913 M586,897 L586,914 M606,900 L608,920"/>
<path fill="#fff" stroke="#333" stroke-width="0.8" d="M556,923 L566,920 L568,940 L559,942 C555,938 554,930 556,923 Z"/>
<circle cx="560" cy="928" r="1.3"/><circle cx="561" cy="935" r="1.3"/>
<path fill="#fff" stroke="#333" stroke-width="1" d="M612,922.3 L574.2,914.1 C567,914.5 564,921 564,929.5 C564,938 568,945 577.4,946.9 L612,953"/>
<path stroke-width="0.9" d="M584.3,949.4 L584.3,962"/>
</g>
<circle cx="595.7" cy="907.2" r="1.6" fill="#333"/>
<path fill="#fff" stroke-width="0.8" d="M536.4,915 L543,912 L541,904 L548,909.5 L552,903.5 L553,911 L560,909 L556,916 L560.4,921 L553.5,922 L555,930.5 L548.5,925 L543,930 L543,922.5 L536,923 L540.5,918.5 Z"/>
<path fill="#111" stroke="none" d="M578.6,943.7 L570.3,939.7 L571.9,943.4 L561.0,948.2 L563.4,953.6 L574.3,948.9 L575.9,952.5 Z"/>
<text x="545.9" y="893.3" font-size="9.2" letter-spacing="0.45" fill="#222" stroke="none" font-family="Liberation Sans">«щелчок!»</text>
</g>
</svg>

<div class="bd" style="left:131px;top:138px"><svg width="35" height="26" style="position:absolute;left:0;top:0"><path fill="#fff" d="M15.4,8.1 L19.2,8.1 L19.2,16 L17.4,16 L17.4,9.8 L15.4,9.8 Z"/></svg></div>
<div class="bd" style="left:305px;top:138px">2</div>
<div class="bd" style="left:479px;top:138px">3</div>
<div class="bd" style="left:652px;top:138px">4</div>

<div class="ban" style="left:64px;top:359px;width:687px;height:106px"></div>
<div class="tt" id="t2a" style="left:89px;top:394px;font-size:20px;transform:scaleX(1.167)">УСТАНОВКА НА ГЛУХУЮ СТВОРКУ, СТЕНУ, ПОТОЛОК</div>
<div class="tt" id="t2b" style="left:241px;top:419.7px;font-size:20px;transform:scaleX(1.14)">С ПОМОЩЬЮ САМОРЕЗОВ</div>

<div class="box" style="left:64px;top:509px;width:171px;height:146px"></div>
<div class="box" style="left:238px;top:509px;width:171px;height:146px"></div>
<div class="box" style="left:412px;top:509px;width:203px;height:146px"></div>
<div class="box" style="left:619px;top:509px;width:133px;height:146px"></div>
<div class="bd" style="left:132px;top:497px"><svg width="35" height="26" style="position:absolute;left:0;top:0"><path fill="#fff" d="M15.4,8.1 L19.2,8.1 L19.2,16 L17.4,16 L17.4,9.8 L15.4,9.8 Z"/></svg></div>
<div class="bd" style="left:306px;top:497px">2</div>
<div class="bd" style="left:496px;top:497px">3</div>
<div class="txt" id="fn" style="left:65px;top:658.5px;font-size:9px;transform:scaleX(1.112)">* Цепочный механизм можно устанавливать слева или справа</div>

<div class="box" style="left:64px;top:691px;width:171px;height:146px"></div>
<div class="box" style="left:238px;top:691px;width:171px;height:146px"></div>
<div class="box" style="left:412px;top:691px;width:340px;height:146px"></div>

<div class="pill" style="position:absolute;z-index:3;left:468px;top:680px;width:228px;height:24px;border-radius:12px;background:#e8528f;"></div>
<div class="txt" id="pilltxt" style="z-index:4;left:497px;top:687px;font-size:10px;color:#fbe6ef;transform:scaleX(1.015)">Способ уменьшения ширины шторы</div>
<div class="txt" id="wa1" style="z-index:4;left:422.5px;top:701px;font-size:10px">А - ширина</div>
<div class="txt" id="wa2" style="z-index:4;left:422.5px;top:711.5px;font-size:10px;transform:scaleX(1.027)">оконного проёма</div>
<div class="txt" id="wb1" style="z-index:4;left:423.5px;top:767.8px;font-size:10px;transform:scaleX(1.013)">Б -ширина&nbsp; шторы</div>
<div class="txt" id="wb2" style="z-index:4;left:423px;top:778.2px;font-size:10px;transform:scaleX(1.016)">на оконной раме</div>
<div class="txt" id="wf1" style="z-index:4;left:484px;top:811.5px;font-size:10px;transform:scaleX(1.008)">* от ширины оконного проема (А) необходимо</div>
<div class="txt" id="wf2" style="z-index:4;left:484px;top:822.8px;font-size:10px;transform:scaleX(0.994)">отнять ширину крепежных механизмов (3,5 см)</div>
<div class="bd" style="left:132px;top:679px">4А</div>
<div class="bd" style="left:306px;top:679px">4Б</div>

<div class="box" style="left:64px;top:854px;width:171px;height:146px"></div>
<div class="box" style="left:238px;top:854px;width:171px;height:146px"></div>
<div class="box" style="left:412px;top:854px;width:340px;height:146px"></div>
<div class="bd" style="left:132px;top:842px">5</div>
<div class="bd" style="left:306px;top:842px">6</div>
<div class="bd" style="left:565px;top:842px">7</div>
</body></html>
